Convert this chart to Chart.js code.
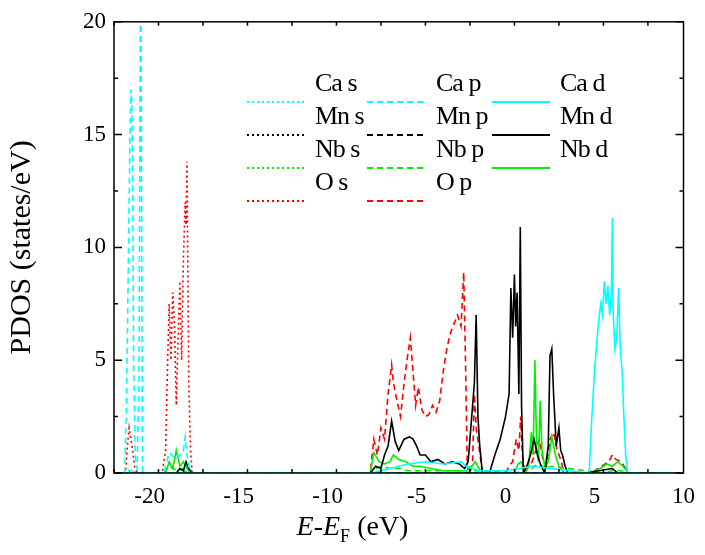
<!DOCTYPE html>
<html>
<head>
<meta charset="utf-8">
<script src="https://cdn.jsdelivr.net/npm/chart.js@4.4.1/dist/chart.umd.min.js"></script>
<style>
body { margin: 0; background: #fff; }
#wrap { position: relative; width: 705px; height: 555px; font-family: "Liberation Serif", "DejaVu Serif", serif; }
.lg { position: absolute; font-size: 26px; line-height: 26px; color: #000; white-space: nowrap; letter-spacing: -1px; }
#xt { position: absolute; left: 0; width: 705px; top: 510px; text-align: center; font-size: 28px; }
</style>
</head>
<body>
<div id="wrap">
<canvas id="c" width="705" height="555"></canvas>
<div id="legend"></div>
<div id="xt"><i>E</i>-<i>E</i><sub style="font-size:18px">F</sub> (eV)</div>
</div>
<script>
// energies (eV) and PDOS (states/eV)
var caSx = [-22, -21.3, -21.1, -20.9, -18.3, -18.0, -17.8, 10];
var caSy = [0, 0, 0.2, 0, 0, 0.1, 0, 0];
var caPx = [-22, -21.4, -21.3, -21.2, -21.15, -21.1, -21.05, -21.0, -20.95, -20.9, -20.8, -20.7, -20.6, -20.55, -20.5, -20.45, -20.4, -19.2, -18.9, -18.5, -18.1, -18.0, -17.9, -17.8, -17.6, -2.4, -2.2, -2.0, 10];
var caPy = [0, 0, 3, 9, 12, 15, 17, 16.5, 13, 5, 0.6, 0.2, 4, 14, 25, 12, 0, 0, 0.9, 0.6, 1.0, 1.6, 0.8, 0.3, 0, 0, 0.2, 0, 0];
var caDx = [-22, -7.5, -6.5, -5.5, -4.5, -3.5, -2.5, -2.2, -1.5, 0, 1.5, 2.5, 4.7, 4.85, 5.0, 5.2, 5.35, 5.45, 5.55, 5.65, 5.75, 5.85, 5.95, 6.0, 6.05, 6.15, 6.25, 6.35, 6.45, 6.55, 6.65, 6.75, 6.85, 7.0, 10];
var caDy = [0, 0, 0.2, 0.4, 0.5, 0.4, 0.5, 0.3, 0.1, 0.1, 0.3, 0.2, 0, 2.5, 4.5, 6.5, 7.5, 7.0, 8.5, 7.5, 8.3, 7.0, 8.0, 11.3, 7.0, 5.5, 6.0, 8.2, 5.5, 4.5, 2.5, 0.8, 0, 0, 0];
var mnSx = [-22, 10];
var mnSy = [0, 0];
var mnPx = [-22, -18.3, -18.1, -17.9, 10];
var mnPy = [0, 0, 0.1, 0, 0];
var mnDx = [-22, -18.5, -18.3, -18.1, -17.95, -17.8, -17.6, -7.6, -7.3, -7.0, -6.8, -6.6, -6.4, -6.2, -6.0, -5.7, -5.4, -5.2, -5.0, -4.8, -4.5, -4.2, -3.8, -3.4, -3.0, -2.6, -2.3, -2.1, -1.9, -1.75, -1.65, -1.55, -1.45, -1.3, -0.9, -0.6, -0.3, 0.0, 0.2, 0.3, 0.4, 0.5, 0.57, 0.65, 0.75, 0.83, 0.9, 1.0, 1.2, 1.4, 1.6, 1.8, 2.0, 2.2, 2.4, 2.5, 2.6, 2.7, 2.85, 3.0, 3.1, 3.2, 3.35, 3.5, 4.5, 6.0, 6.3, 10];
var mnDy = [0, 0, 0.2, 0.1, 0.5, 0.2, 0, 0, 0.3, 0.2, 0.8, 1.2, 2.3, 1.4, 1.0, 1.5, 1.6, 1.5, 1.2, 0.8, 0.8, 0.5, 0.6, 0.4, 0.5, 0.4, 0.2, 0.5, 2.5, 4.0, 7.0, 2.5, 1.2, 0, 0, 0.8, 1.5, 2.5, 3.5, 8.2, 6.0, 8.8, 6.5, 8.0, 3.5, 10.9, 3.0, 0, 0.3, 0.8, 1.5, 0.8, 0.3, 0, 1.2, 5.2, 5.5, 3.5, 1.2, 2.0, 1.0, 0.8, 0.3, 0, 0, 0.2, 0, 0];
var nbSx = [-22, -21.4, -21.1, -20.7, 10];
var nbSy = [0, 0, 0.1, 0, 0];
var nbPx = [-22, -19.2, -18.9, -18.7, -18.4, -18.1, -17.8, -7.6, -7.3, -7.0, -6.5, -6.0, -5.5, -5.0, -4.0, -2.5, -2.3, -1.8, 1.3, 1.6, 1.9, 2.2, 2.6, 5.5, 6.0, 6.5, 6.9, 10];
var nbPy = [0, 0, 0.3, 0.2, 0.1, 0.2, 0, 0, 0.2, 0.3, 0.2, 0.2, 0.1, 0.1, 0.1, 0.1, 0, 0.1, 0, 0.3, 0.4, 0.2, 0.3, 0, 0.1, 0.1, 0, 0];
var nbDx = [-22, -19.1, -18.9, -18.7, -18.5, -18.3, -18.1, -17.9, -17.7, -7.6, -7.4, -7.1, -6.8, -6.5, -6.3, -6.0, -5.6, -5.2, -4.8, -4.2, -3.5, -2.8, -2.2, -1.9, -1.7, -1.5, -1.2, 0.5, 0.7, 0.9, 1.1, 1.3, 1.45, 1.55, 1.65, 1.75, 1.85, 1.95, 2.05, 2.2, 2.4, 2.6, 2.8, 3.0, 3.3, 4.8, 5.3, 5.7, 6.0, 6.3, 6.6, 6.9, 10];
var nbDy = [0, 0, 0.5, 0.2, 1.0, 0.3, 0.5, 0.2, 0, 0, 0.9, 0.5, 0.4, 0.5, 0.8, 0.6, 0.5, 0.3, 0.3, 0.2, 0.1, 0.1, 0.1, 0.3, 0.5, 0.2, 0, 0, 0.4, 0.5, 0, 0.3, 1.8, 0.8, 5.0, 1.0, 0.5, 3.2, 1.0, 0.3, 0.5, 1.6, 0.8, 0.3, 0, 0, 0.2, 0.4, 0.3, 0.5, 0.3, 0, 0];
var oSx = [-22, -21.35, -21.25, -21.15, -21.05, -20.95, -20.85, -20.7, -19.3, -19.1, -19.0, -18.9, -18.8, -18.7, -18.6, -18.5, -18.4, -18.3, -18.2, -18.1, -18.0, -17.95, -17.9, -17.85, -17.8, -17.7, -17.6, 10];
var oSy = [0, 0, 1.2, 2.0, 1.5, 1.0, 0.3, 0, 0, 1.0, 4.5, 7.5, 5.0, 8.0, 6.5, 3.0, 6.0, 8.5, 5.0, 9.5, 12.0, 11.0, 13.8, 9.0, 4.0, 1.0, 0, 0];
var oPx = [-22, -7.6, -7.4, -7.2, -7.0, -6.8, -6.6, -6.4, -6.3, -6.1, -5.9, -5.7, -5.5, -5.35, -5.2, -5.05, -4.9, -4.7, -4.5, -4.3, -4.1, -3.9, -3.7, -3.5, -3.3, -3.1, -2.9, -2.7, -2.5, -2.35, -2.25, -2.15, -2.0, -1.85, -1.75, -1.65, -1.5, -1.3, 0.0, 0.2, 0.4, 0.6, 0.75, 0.85, 0.95, 1.1, 1.3, 1.5, 1.7, 1.9, 2.1, 2.3, 2.5, 2.7, 2.9, 3.1, 3.3, 4.8, 5.4, 5.8, 6.0, 6.2, 6.5, 6.9, 10];
var oPy = [0, 0, 1.5, 0.8, 2.0, 1.5, 3.5, 4.8, 4.0, 3.2, 2.5, 4.0, 5.2, 6.0, 4.5, 3.0, 3.8, 2.8, 2.5, 2.6, 3.0, 2.7, 3.2, 4.5, 5.5, 6.2, 6.6, 7.0, 6.5, 8.9, 5.0, 0.3, 0, 0.5, 3.5, 2.0, 1.2, 0, 0, 0.3, 0.5, 1.5, 1.0, 2.5, 0.8, 0, 0.3, 0.5, 1.0, 1.5, 0.6, 0.3, 1.5, 1.8, 1.0, 0.6, 0, 0, 0.3, 0.5, 0.8, 0.6, 0.5, 0, 0];

var xTicks = [-20, -15, -10, -5, 0, 5, 10];
var yTicks = [0, 5, 10, 15, 20];

var FONT = 'Liberation Serif';
var CYAN = '#00ffff', BLACK = '#000000', GREEN = '#00ee00', RED = '#ff0000';
var DOT = [2, 3], DASH = [6, 4], SOLID = [];

function pts(xs, ys) {
    var out = [];
    for (var i = 0; i < xs.length; i++) {
        out.push({x: xs[i], y: ys[i]});
    }
    return out;
}

// label, x, y, colour, dash
var series = [
    ['Ca s', caSx, caSy, CYAN, DOT],
    ['Ca p', caPx, caPy, CYAN, DASH],
    ['Ca d', caDx, caDy, CYAN, SOLID],
    ['Mn s', mnSx, mnSy, BLACK, DOT],
    ['Mn p', mnPx, mnPy, BLACK, DASH],
    ['Mn d', mnDx, mnDy, BLACK, SOLID],
    ['Nb s', nbSx, nbSy, GREEN, DOT],
    ['Nb p', nbPx, nbPy, GREEN, DASH],
    ['Nb d', nbDx, nbDy, GREEN, SOLID],
    ['O s', oSx, oSy, RED, DOT],
    ['O p', oPx, oPy, RED, DASH]
];

var datasets = [];
for (var i = 0; i < series.length; i++) {
    var s = series[i];
    datasets.push({
        label: s[0],
        data: pts(s[1], s[2]),
        borderColor: s[3],
        borderDash: s[4],
        borderWidth: 1.6,
        pointRadius: 0,
        tension: 0,
        fill: false
    });
}

// inward ticks on all four sides, like the original plot
var inTicks = {
    id: 'inTicks',
    afterDraw: function(chart) {
        var c = chart.ctx, a = chart.chartArea;
        var xs = chart.scales.x, ys = chart.scales.y;
        c.save();
        c.strokeStyle = '#000';
        c.lineWidth = 1.5;
        c.beginPath();
        for (var v = -22; v <= 10; v += 2.5) {
            var px = xs.getPixelForValue(v);
            if (px < a.left || px > a.right) continue;
            var len = (v % 5 === 0) ? 8 : 4;
            c.moveTo(px, a.bottom); c.lineTo(px, a.bottom - len);
            c.moveTo(px, a.top); c.lineTo(px, a.top + len);
        }
        for (var w = 0; w <= 20; w += 2.5) {
            var py = ys.getPixelForValue(w);
            var l2 = (w % 5 === 0) ? 8 : 4;
            c.moveTo(a.left, py); c.lineTo(a.left + l2, py);
            c.moveTo(a.right, py); c.lineTo(a.right - l2, py);
        }
        c.stroke();
        c.strokeRect(a.left, a.top, a.right - a.left, a.bottom - a.top);
        c.restore();
    }
};

new Chart(document.getElementById('c'), {
    type: 'line',
    data: {datasets: datasets},
    options: {
        responsive: false,
        animation: false,
        clip: true,
        layout: {padding: {top: 20, right: 17}},
        plugins: {legend: {display: false}, tooltip: {enabled: false}},
        scales: {
            x: {
                type: 'linear', min: -22, max: 10,
                afterBuildTicks: function(s) { s.ticks = xTicks.map(function(v) { return {value: v}; }); },
                grid: {display: false, drawTicks: false},
                border: {display: false},
                ticks: {color: '#000', padding: 10, font: {family: FONT, size: 23}},
                afterFit: function(s) { s.height = 82; }
            },
            y: {
                min: 0, max: 20,
                afterBuildTicks: function(s) { s.ticks = yTicks.map(function(v) { return {value: v}; }); },
                grid: {display: false, drawTicks: false},
                border: {display: false},
                ticks: {color: '#000', padding: 8, font: {family: FONT, size: 23}},
                title: {display: true, text: 'PDOS (states/eV)', color: '#000', font: {family: FONT, size: 30}, padding: {bottom: 2}},
                afterFit: function(s) { s.width = 114; }
            }
        }
    },
    plugins: [inTicks]
});

// legend: sample line then label, laid out like the original
var legendRows = [[0, 1, 2], [3, 4, 5], [6, 7, 8], [9, 10]];
var colLine = [247, 367, 492];
var colText = [315, 436, 560];
var lg = document.getElementById('legend');
for (var r = 0; r < legendRows.length; r++) {
    var yc = 87 + r * 33;
    for (var k = 0; k < legendRows[r].length; k++) {
        var s = series[legendRows[r][k]];
        var dash = s[4].length ? s[4].join(',') : 'none';
        var svg = document.createElement('div');
        svg.className = 'lg';
        svg.style.left = colLine[k] + 'px';
        svg.style.top = (yc - 3) + 'px';
        svg.innerHTML = '<svg width="58" height="6"><line x1="0" y1="3" x2="58" y2="3" stroke="' + s[3] +
            '" stroke-width="1.8" stroke-dasharray="' + dash + '"/></svg>';
        lg.appendChild(svg);
        var t = document.createElement('div');
        t.className = 'lg';
        t.style.left = colText[k] + 'px';
        t.style.top = (yc - 17) + 'px';
        t.textContent = s[0];
        lg.appendChild(t);
    }
}
</script>
</body>
</html>
